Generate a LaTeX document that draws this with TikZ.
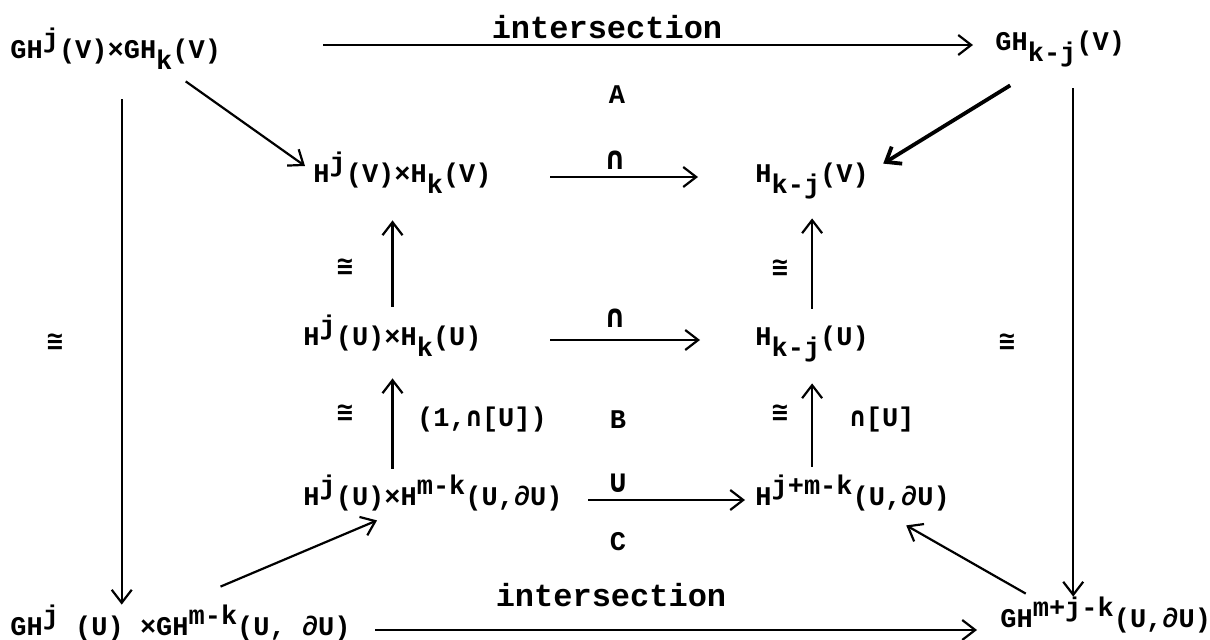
\documentclass[tikz,border=0pt]{standalone}
\usepackage{fontspec}
\setmonofont{Liberation Mono}
\newfontfamily\symf{DejaVu Sans Mono}
\usepackage{tikz}
\usetikzlibrary{arrows.meta}

\newcommand{\up}[1]{\raisebox{0.42em}{#1}}
\newcommand{\dn}[1]{\raisebox{-0.4em}{#1}}
\newcommand{\isom}{{\symf\bfseries ≅}}
\newcommand{\capp}{{\symf\bfseries ∩}}
\newcommand{\cupp}{{\symf\bfseries ∪}}

\tikzset{
    every node/.style={
        font=\ttfamily\bfseries\fontsize{13.5}{16}\selectfont,
        inner sep=0pt
    },
    obj/.style={anchor=west, text height=0.6em, text depth=0pt},
    big/.style={font=\ttfamily\bfseries\fontsize{16}{18}\selectfont},
    map/.style={line width=1.1pt, -{Straight Barb[length=6.5pt,width=10pt]}},
    heavy/.style={map, line width=1.9pt}
}

\begin{document}
\begin{tikzpicture}[x=0.5pt,y=-0.5pt]
\fill[white] (0,0) rectangle (1210,640);
\useasboundingbox (0,0) rectangle (1210,640);

% Objects
\node[obj] (GHVV) at (10,53) {GH\up{j}(V)×GH\dn{k}(V)};
\node[obj] (GHkjV) at (995,45) {GH\dn{k-j}(V)};
\node[obj] (HVV) at (313,177) {H\up{j}(V)×H\dn{k}(V)};
\node[obj] (HkjV) at (755,177) {H\dn{k-j}(V)};
\node[obj] (HUU) at (303,340) {H\up{j}(U)×H\dn{k}(U)};
\node[obj] (HkjU) at (755,340) {H\dn{k-j}(U)};
\node[obj] (HUdU) at (303,500) {H\up{j}(U)×H\up{m-k}(U,∂U)};
\node[obj] (HjmkU) at (755,500) {H\up{j+m-k}(U,∂U)};
\node[obj] (GHUdU) at (10,630) {GH\up{j} (U) ×GH\up{m-k}(U, ∂U)};
\node[obj] (GHmjkU) at (1000,622) {GH\up{m+j-k}(U,∂U)};

% Labels
\node[big] (intA) at (607,27) {intersection};
\node[big] (intC) at (611,595) {intersection};
\node (sqA) at (617,95) {A};
\node (sqB) at (618,420) {B};
\node (sqC) at (618,542) {C};
\node[big] (capV) at (615,160) {\capp};
\node[big] (capU) at (615,318) {\capp};
\node[big] (cupU) at (618,483) {\cupp};
\node (isoL) at (55,342) {\isom};
\node (isoR) at (1007,342) {\isom};
\node (isoA) at (345,267) {\isom};
\node (isoB) at (345,413) {\isom};
\node (isoC) at (780,268) {\isom};
\node (isoD) at (780,413) {\isom};
\node (oneU) at (482,420) {(1,\capp[U])};
\node (fundU) at (882,420) {\capp[U]};

% Horizontal maps
\draw[map, shorten <=51pt, shorten >=11pt] (GHVV.east |- GHkjV.west) -- (GHkjV.west);
\draw[map, shorten <=29pt, shorten >=28.5pt] (HVV.east) -- (HkjV.west);
\draw[map, shorten <=34pt, shorten >=27.5pt] (HUU.east) -- (HkjU.west);
\draw[map, shorten <=12.5pt, shorten >=5pt] (HUdU.east) -- (HjmkU.west);
\draw[map, shorten <=12pt, shorten >=11.5pt] (GHUdU.east) -- (GHmjkU.west |- GHUdU.east);

% Vertical maps
\draw[map, shorten <=20pt, shorten >=9.5pt] ([xshift=3pt]GHVV.south) -- ([xshift=3pt]GHVV.south |- GHUdU.north);
\draw[map, shorten <=18.5pt, shorten >=9.5pt] ([xshift=6.5pt]GHkjV.south) -- ([xshift=6.5pt]GHkjV.south |- GHmjkU.north);
\draw[map, shorten <=13.5pt, shorten >=18.5pt] (HUU.north) -- (HUU.north |- HVV.south);
\draw[map, shorten <=12.5pt, shorten >=16pt] (HUU.south |- HUdU.north) -- (HUU.south);
\draw[map, shorten <=12.5pt, shorten >=17.5pt] (HkjU.north) -- (HkjU.north |- HkjV.south);
\draw[map, shorten <=13.5pt, shorten >=18.5pt] (HkjU.south |- HjmkU.north) -- (HkjU.south);

% Diagonal maps
\draw[map] ([shift={(70,22)}]GHVV.south) -- ([shift={(-8,-11)}]HVV.west);
\draw[heavy] ([shift={(-50,34)}]GHkjV.south) -- ([shift={(14,-7)}]HkjV.north east);
\draw[map] ([shift={(40,-37)}]GHUdU.north) -- ([shift={(-56,14)}]HUdU.south);
\draw[map] ([shift={(-80,-22)}]GHmjkU.north) -- ([shift={(-44,19)}]HjmkU.south east);

\end{tikzpicture}
\end{document}
